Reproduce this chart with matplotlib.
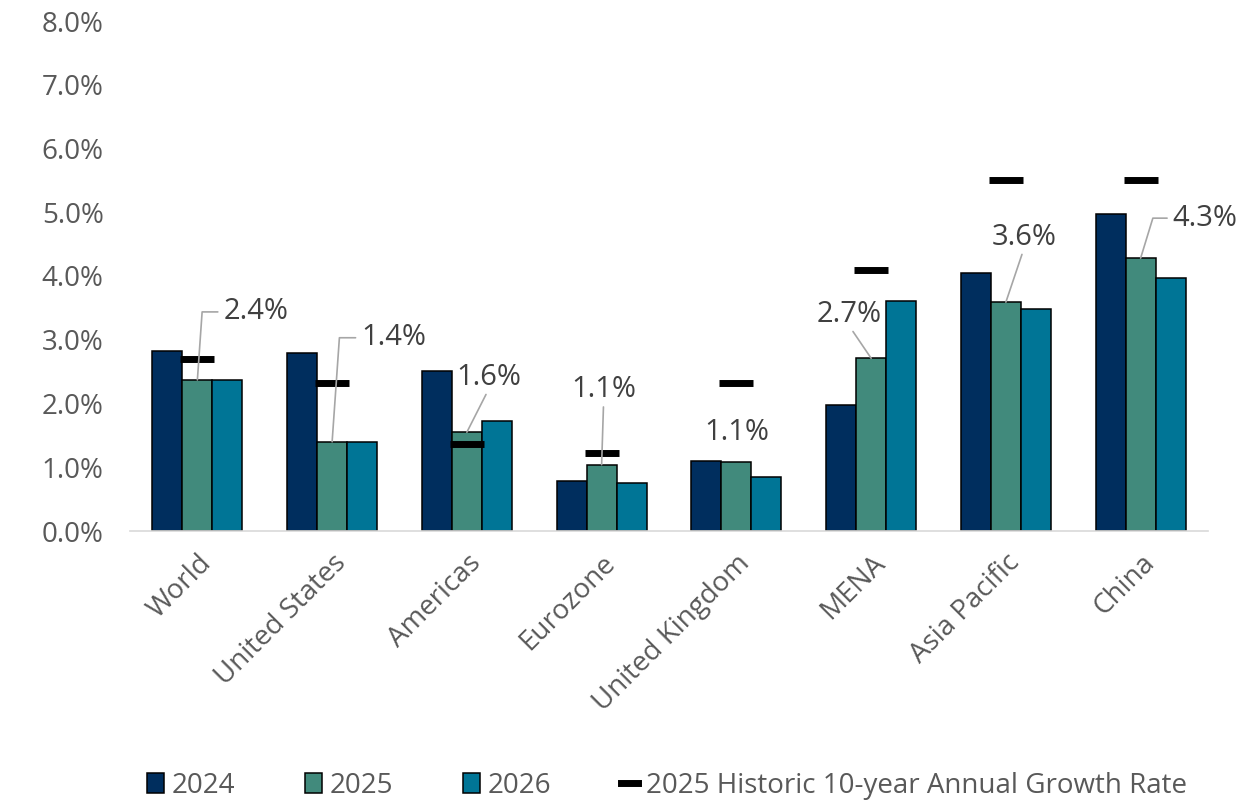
import matplotlib
matplotlib.use("Agg")
import matplotlib.pyplot as plt
from matplotlib.patches import Patch
from matplotlib.lines import Line2D
from matplotlib.ticker import PercentFormatter
import numpy as np

# ------------------------------------------------------
# Dados
# ------------------------------------------------------
regioes = ["World", "United States", "Americas", "Eurozone",
           "United Kingdom", "MENA", "Asia Pacific", "China"]
anos = ["2024", "2025", "2026"]
g2024 = [2.82, 2.79, 2.51, 0.78, 1.10, 1.98, 4.05, 4.97]
g2025 = [2.37, 1.40, 1.55, 1.04, 1.08, 2.71, 3.59, 4.28]
g2026 = [2.37, 1.40, 1.73, 0.75, 0.85, 3.61, 3.48, 3.97]
historico = [2.70, 2.32, 1.36, 1.22, 2.32, 4.09, 5.50, 5.50]
rotulos = ["2.4%", "1.4%", "1.6%", "1.1%", "1.1%", "2.7%", "3.6%", "4.3%"]
nome_hist = "2025 Historic 10-year Annual Growth Rate"

cores = ["#002E5E", "#418A7C", "#007596"]
cinza = "#595959"

plt.rcParams["font.family"] = ["Open Sans", "DejaVu Sans"]

fig = plt.figure(figsize=(12.56, 8.02), dpi=100)
ax = fig.add_axes([130 / 1256, 1 - 531 / 802, 1078 / 1256, 510 / 802])

x = np.arange(len(regioes))
w = 0.2226
for k, (serie, cor) in enumerate(zip([g2024, g2025, g2026], cores)):
    ax.bar(x + (k - 1) * w, serie, width=w, color=cor,
           edgecolor="black", linewidth=1.1, zorder=2)

ax.plot(x, historico, linestyle="none", marker="_", markersize=24,
        markeredgewidth=5, color="black", zorder=3)

# ------------------------------------------------------
# Rótulos da série 2025 (deslocamento em pixels a partir do topo da barra)
# ------------------------------------------------------
# (dx, dy, tipo, ângulo)
offsets = [(26, 68, "canto", 86), (29, 104, "canto", 86), (22, 55, "reta", 0),
           (2, 75, "reta", 0), (0, 30, "sem", 0), (-22, 44, "reta", 0),
           (18, 65, "reta", 0), (32, 40, "canto", 73)]

for i, (dx, dy, tipo, ang) in enumerate(offsets):
    kw = dict(xy=(x[i], g2025[i]), xytext=(dx, dy), textcoords="offset pixels",
              fontsize=21, color="#404040", va="center", zorder=4)
    if tipo == "canto":
        ax.annotate(rotulos[i], ha="left",
                    arrowprops=dict(arrowstyle="-", color="#a6a6a6", lw=1.2,
                                    shrinkA=2, shrinkB=0, relpos=(0, 0.5),
                                    connectionstyle=f"angle,angleA=0,angleB={ang},rad=0"),
                    **kw)
    elif tipo == "reta":
        ax.annotate(rotulos[i], ha="center",
                    arrowprops=dict(arrowstyle="-", color="#a6a6a6", lw=1.2,
                                    shrinkA=0, shrinkB=0, relpos=(0.5, 0.1)),
                    **kw)
    else:
        ax.annotate(rotulos[i], ha="center", **kw)

# ------------------------------------------------------
# Eixos
# ------------------------------------------------------
ax.set_xlim(-0.5, len(regioes) - 0.5)
ax.set_ylim(0, 8)
ax.set_yticks(np.arange(0, 9, 1))
ax.yaxis.set_major_formatter(PercentFormatter(decimals=1))
ax.set_xticks(x)
ax.set_xticklabels(regioes, rotation=45, ha="right", rotation_mode="anchor")
ax.tick_params(axis="both", length=0, labelsize=20, labelcolor=cinza)
ax.tick_params(axis="y", pad=19)
ax.tick_params(axis="x", pad=13)
for lado in ["top", "right", "left"]:
    ax.spines[lado].set_visible(False)
ax.spines["bottom"].set_color("#d9d9d9")
ax.spines["bottom"].set_linewidth(1.2)

# ------------------------------------------------------
# Legenda
# ------------------------------------------------------
handles = [Patch(facecolor=c, edgecolor="black", linewidth=1.1) for c in cores]
handles.append(Line2D([], [], color="black", linewidth=5))
fig.legend(handles, anos + [nome_hist], loc="center", ncol=4,
           bbox_to_anchor=(667 / 1256, 1 - 786 / 802), frameon=False,
           fontsize=20, labelcolor=cinza, handlelength=0.6, handleheight=0.75,
           handletextpad=0.3, columnspacing=2.5)

fig.savefig("out.png", dpi=100)
